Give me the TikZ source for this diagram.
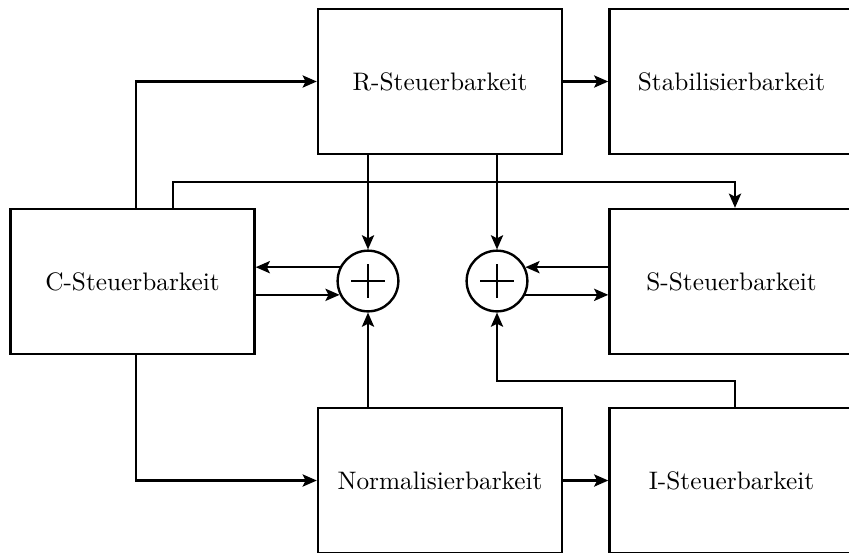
\documentclass[tikz,border=0pt]{standalone}
\usetikzlibrary{arrows.meta,calc}
\begin{document}
\begin{tikzpicture}[x=0.3953pt,y=-0.3953pt,
  line width=0.95pt,
  blockbox/.style={draw,line width=0.95pt,minimum width=96.45pt,minimum height=57.3pt,inner sep=0pt,font=\fontsize{10}{12}\selectfont},
  sumnode/.style={draw,circle,line width=0.95pt,minimum size=24pt,inner sep=0pt},
  arr/.style={-{Stealth[length=5.6pt,width=4.8pt,inset=1.2pt]}}]
\useasboundingbox (0,0) rectangle (849,552);
\clip (0,0) rectangle (849,552);

% blocks
\node[blockbox] (R) at (440,81.5) {R-Steuerbarkeit};
\node[blockbox] (Stab) at (731.5,81.5) {Stabilisierbarkeit};
\node[blockbox] (C) at (132.5,281.5) {C-Steuerbarkeit};
\node[blockbox] (S) at (731.5,281.5) {S-Steuerbarkeit};
\node[blockbox] (N) at (440,480.5) {Normalisierbarkeit};
\node[blockbox] (I) at (731.5,480.5) {I-Steuerbarkeit};

% summing junctions
\node[sumnode] (L) at (368,281) {};
\node[sumnode] (Rc) at (497,281) {};
\foreach \s in {L,Rc}{
  \draw ($(\s)+(-17,0)$) -- ($(\s)+(17,0)$);
  \draw ($(\s)+(0,-17)$) -- ($(\s)+(0,17)$);
}

% routing coordinates
\coordinate (xa) at (136,0);
\coordinate (xb) at (173,0);
\coordinate (xc) at (735,0);
\coordinate (ya) at (0,182);
\coordinate (yb) at (0,381);

% connectors
\draw[arr] (C.north -| xa) |- (R.west);
\draw[arr] (C.north -| xb) -- (ya -| xb) -| (S.north -| xc);
\draw[arr] (R.east) -- (Stab.west);
\draw[arr] (R.south -| L) -- (L.north);
\draw[arr] (R.south -| Rc) -- (Rc.north);
\draw[arr] (L.154) -- (C.east |- L.154);
\draw[arr] (C.east |- L.206) -- (L.206);
\draw[arr] (S.west |- Rc.26) -- (Rc.26);
\draw[arr] (Rc.-26) -- (S.west |- Rc.-26);
\draw[arr] (N.north -| L) -- (L.south);
\draw[arr] (I.north -| xc) -- (yb -| xc) -| (Rc.south);
\draw[arr] (C.south -| xa) |- (N.west);
\draw[arr] (N.east) -- (I.west);
\end{tikzpicture}
\end{document}
